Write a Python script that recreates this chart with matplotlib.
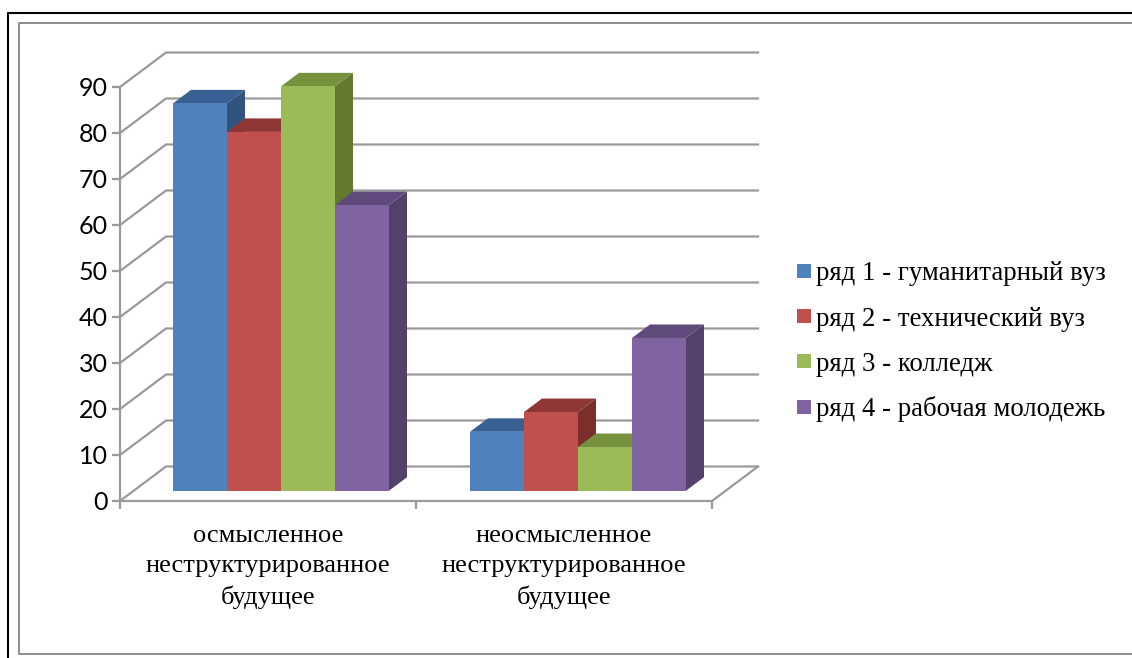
from matplotlib import pyplot as plt
from matplotlib.patches import Polygon, Rectangle
from matplotlib.transforms import ScaledTranslation
import numpy as np

W, H = 1132, 658

categories = ['осмысленное\nнеструктурированное\nбудущее',
              'неосмысленное\nнеструктурированное\nбудущее']
series = ['ряд 1 - гуманитарный вуз', 'ряд 2 - технический вуз',
          'ряд 3 - колледж', 'ряд 4 - рабочая молодежь']
values = [[84.2, 12.8], [78, 17.1], [87.9, 9.5], [62.1, 33.2]]
y_ticks = [0, 10, 20, 30, 40, 50, 60, 70, 80, 90]

front = ['#4f81bd', '#c0504d', '#9bbb59', '#8064a2']
top = ['#386093', '#8f3735', '#76923c', '#604a7b']
side = ['#31547f', '#7b2f2d', '#64782f', '#53406b']
grid_color = '#9a9a9a'

plt.rcParams['font.family'] = ['Liberation Serif', 'DejaVu Sans']

fig = plt.figure(figsize=(W / 100, H / 100), dpi=100)
ax = fig.add_axes([120 / W, 1 - 501 / H, 592 / W, 414 / H])
ax.set_xlim(0, 2)
ax.set_ylim(0, 90)
ax.patch.set_visible(False)

# pixel to data helpers for the fake 3d depth
ux = 296.0
uy = 4.6
wall_dx, wall_dy = 46 / ux, 34.5 / uy
bar_dy = 10.3 / uy
depth_x, depth_y = 18 / ux, 13.5 / uy
bar_w = 54 / ux
starts = [53 / ux, 350 / ux]

# back wall gridlines and the slanted ones on the left wall
for v in y_ticks:
    ax.plot([0, wall_dx, 2 + wall_dx], [v, v + wall_dy, v + wall_dy], color=grid_color,
            lw=1.6, clip_on=False, solid_joinstyle='miter', zorder=1)
ax.plot([0, 2, 2 + wall_dx], [0, 0, wall_dy], color=grid_color, lw=1.6, clip_on=False, zorder=1)
ax.plot([0, 0], [0, 90], color=grid_color, lw=1.6, clip_on=False, zorder=1)

for g in range(2):
    for i in range(4):
        v = values[i][g]
        x0 = starts[g] + i * bar_w
        x1 = x0 + bar_w
        b = bar_dy
        t = b + v
        ax.add_patch(Polygon([(x1, b), (x1 + depth_x, b + depth_y), (x1 + depth_x, t + depth_y), (x1, t)],
                             fc=side[i], ec='none', clip_on=False, zorder=2 + i))
        ax.add_patch(Polygon([(x0, t), (x0 + depth_x, t + depth_y), (x1 + depth_x, t + depth_y), (x1, t)],
                             fc=top[i], ec='none', clip_on=False, zorder=2 + i))
        ax.add_patch(Rectangle((x0, b), bar_w, v, fc=front[i], ec='none', clip_on=False, zorder=2 + i))

for s in ax.spines.values():
    s.set_visible(False)
ax.set_yticks(y_ticks)
ax.set_xticks([0, 1, 2])
ax.set_xticklabels([])
ax.tick_params(axis='y', length=6, width=1.6, color=grid_color, labelsize=18, pad=3)
ax.tick_params(axis='x', length=6, width=1.6, color=grid_color)
for label in ax.get_yticklabels():
    label.set_family('Lato')

for i, c in enumerate(categories):
    ax.text(i + 0.5, -5.3, c, ha='center', va='top', fontsize=19, color='black', linespacing=1.45)

# legend
square_y = [271, 316, 361, 407]
text_y = [280, 326, 371, 416]
for name, col, sy, ty in zip(series, front, square_y, text_y):
    fig.patches.append(Rectangle((797 / W, 1 - (sy + 7) / H), 14 / W, 14 / H, fc=col, ec='none',
                                 transform=fig.transFigure))
    fig.text(816 / W, 1 - ty / H, name, fontsize=19.3, color='black', va='baseline', ha='left')

# outer frames
fig.add_artist(plt.Line2D([8.3 / W, 8.3 / W, 1], [0, 1 - 12.7 / H, 1 - 12.7 / H], color='black', lw=1.5))
fig.add_artist(plt.Line2D([1, 19.3 / W, 19.3 / W, 1], [1 - 23 / H, 1 - 23 / H, 1 - 654.3 / H, 1 - 654.3 / H],
                          color='#8c8c8c', lw=1.4))

fig.savefig('out.png', dpi=100)
